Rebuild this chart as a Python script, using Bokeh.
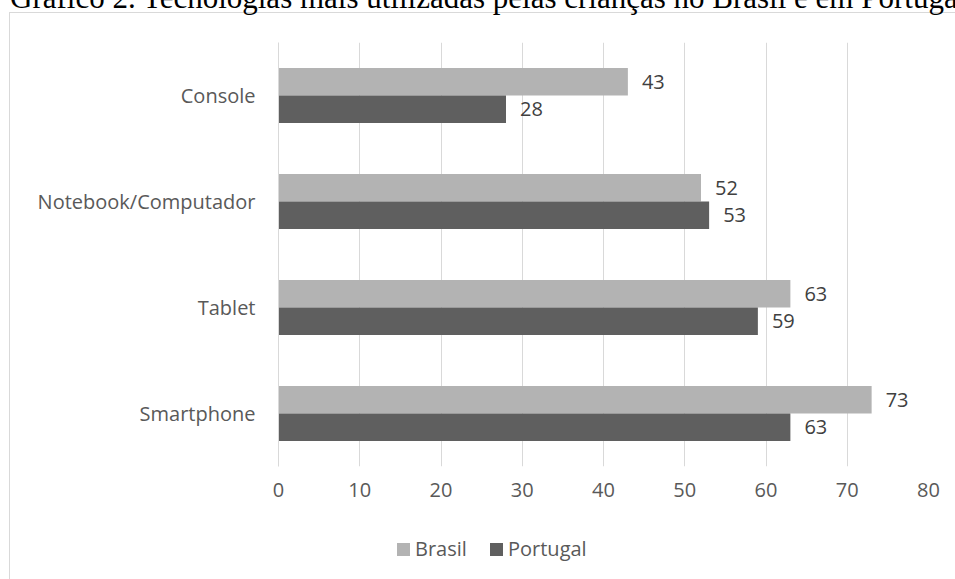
from bokeh.plotting import figure
from bokeh.layouts import column
from bokeh.models import (ColumnDataSource, FactorRange, LabelSet, FixedTicker, Div,
                          InlineStyleSheet)
from bokeh.transform import dodge
from bokeh.core.properties import value
from bokeh.embed import file_html
from bokeh.resources import INLINE

# ---- data ----
categories = ["Console", "Notebook/Computador", "Tablet", "Smartphone"]
brasil = [43, 52, 63, 73]
portugal = [28, 53, 59, 63]
series_names = ["Brasil", "Portugal"]
x_ticks = [0, 10, 20, 30, 40, 50, 60, 70, 80]
title_text = "Gráfico 2. Tecnologias mais utilizadas pelas crianças no Brasil e em Portugal"

C_BR = "#b3b3b3"
C_PT = "#5f5f5f"
GRID = "#d9d9d9"
TXT = "#595959"
series_colors = [C_BR, C_PT]

src = ColumnDataSource(dict(
    cat=categories,
    brasil=brasil,
    portugal=portugal,
    bl=[str(v) for v in brasil],
    pl=[str(v) for v in portugal],
))

p = figure(width=955, height=579, frame_width=650, frame_height=424,
           y_range=FactorRange(factors=categories[::-1], range_padding=0),
           x_range=(0, 80),
           output_backend="svg", toolbar_location=None,
           min_border_left=278, min_border_right=27,
           min_border_top=42, min_border_bottom=113)
p.border_fill_alpha = 0

r1 = p.hbar(y=dodge("cat", 0.13, range=p.y_range), left=0, right="brasil", height=0.26,
            fill_color=C_BR, line_color=None, source=src)
r2 = p.hbar(y=dodge("cat", -0.13, range=p.y_range), left=0, right="portugal", height=0.26,
            fill_color=C_PT, line_color=None, source=src)

for col, lab, off in (("brasil", "bl", 0.13), ("portugal", "pl", -0.13)):
    p.add_layout(LabelSet(x=col, y=dodge("cat", off, range=p.y_range), text=lab, source=src,
                          x_offset=14, text_baseline="middle", text_align="left",
                          text_font=value("Open Sans"), text_font_size="20px",
                          text_color="#404040"))

# axes
p.xaxis.ticker = FixedTicker(ticks=x_ticks)
p.xaxis.axis_line_color = None
p.xaxis.major_tick_line_color = None
p.xaxis.minor_tick_line_color = None
p.xaxis.major_tick_out = 0
p.xaxis.major_label_text_font = "Open Sans"
p.xaxis.major_label_text_font_size = "20px"
p.xaxis.major_label_text_color = TXT
p.xaxis.major_label_standoff = 16

p.yaxis.axis_line_color = GRID
p.yaxis.axis_line_width = 1
p.yaxis.major_tick_line_color = None
p.yaxis.minor_tick_line_color = None
p.yaxis.major_tick_out = 0
p.yaxis.major_label_text_font = "Open Sans"
p.yaxis.major_label_text_font_size = "20px"
p.yaxis.major_label_text_color = TXT
p.yaxis.major_label_standoff = 23

p.xgrid.grid_line_color = GRID
p.xgrid.grid_line_width = 1
p.ygrid.grid_line_color = None
p.outline_line_color = None

# light chart border (continues past the right/bottom edge of the page)
p.stylesheets = [InlineStyleSheet(css=(
    ":host { position: relative; overflow: hidden; }"
    ":host::after { content: ''; position: absolute; left: 9px; top: 12px;"
    " width: 1200px; height: 900px; border: 1px solid #d9d9d9;"
    " pointer-events: none; box-sizing: border-box; }"
))]

# legend below the axis (HTML overlay, colours taken from the series)
legend_x = [397, 490]
item_html = ""
for name, colr, lx in zip(series_names, series_colors, legend_x):
    item_html += (
        f'<div style="position:absolute;left:{lx}px;top:543px;width:13px;height:13px;'
        f'background:{colr};"></div>'
        f'<div style="position:absolute;left:{lx + 18}px;top:535px;white-space:nowrap;'
        f"font-family:'Open Sans';font-size:20px;line-height:27px;color:{TXT};\">{name}</div>"
    )
legend_div = Div(text=item_html, styles={
    "position": "absolute", "left": "0px", "top": "0px", "width": "955px",
    "height": "579px", "z-index": "2", "pointer-events": "none",
    "margin": "0", "padding": "0"})

# document caption above the chart, clipped by the top of the page
title = Div(text=title_text, styles={
    "position": "absolute", "left": "10px", "top": "-20px", "z-index": "2",
    "width": "945px", "overflow": "hidden", "white-space": "nowrap",
    "font-family": "Liberation Serif", "font-size": "31px", "line-height": "36px",
    "color": "#000000", "margin": "0", "padding": "0"})

open("out.html", "w").write(file_html(column(title, legend_div, p), INLINE))
